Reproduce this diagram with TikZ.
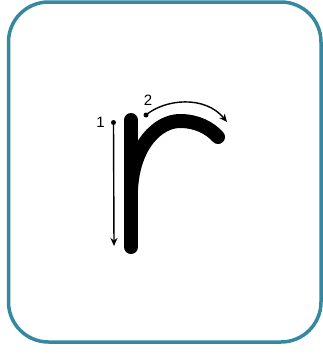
\documentclass[tikz,border=0pt]{standalone}
\usepackage{fontspec}
\setmainfont{Liberation Sans}
\usetikzlibrary{arrows.meta}
\definecolor{frameteal}{RGB}{52,136,160}
\tikzset{
  letterstroke/.style={line width=14pt, line cap=round, black},
  guide/.style={line width=1.4pt, black, -{Stealth[length=8pt,width=7pt]}},
  startdot/.style={circle, fill=black, inner sep=0pt, minimum size=5pt},
  numlabel/.style={font=\fontsize{15}{17}\selectfont, inner sep=0pt},
}
\begin{document}
\begin{tikzpicture}[x=1pt,y=-1pt]
\useasboundingbox (0,0) rectangle (323,354);
\draw[frameteal, line width=3.5pt, rounded corners=40pt] (8.5,2) rectangle (321,342);
% letter r
\draw[letterstroke] (131,120) -- (131,247);
\draw[letterstroke] (131,190) .. controls (133,145) and (158,121) .. (180,121) .. controls (197,121) and (210,128) .. (218,137);
% stroke 1
\node[startdot] (d1) at (113.5,122.5) {};
\coordinate (e1) at (114,246);
\draw[guide] (d1.center) -- (e1);
\node[numlabel] (n1) at (100.5,122.5) {1};
% stroke 2
\node[startdot] (d2) at (146,115) {};
\coordinate (e2) at (227,122);
\draw[guide] (d2.center) .. controls (165,99) and (205,95) .. (e2);
\node[numlabel] (n2) at (148,100) {2};
\end{tikzpicture}
\end{document}
